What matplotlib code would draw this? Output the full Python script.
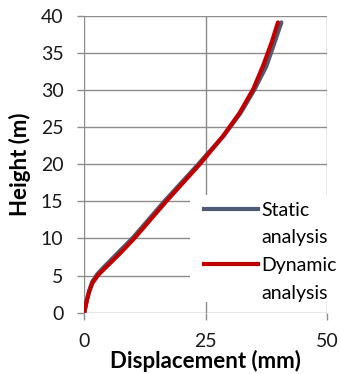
import matplotlib
matplotlib.use("Agg")
import matplotlib.pyplot as plt
from matplotlib.lines import Line2D
from matplotlib.patches import Rectangle

plt.rcParams['font.family'] = ['Lato', 'DejaVu Sans']

# displacement (mm) vs height (m)
static_disp = [0, 0.14, 0.5, 1.0, 1.6, 2.7, 4.3, 7.0, 9.9, 16.5, 23.5, 25.1, 28.7,
               32.2, 35.1, 37.5, 39.2, 40.6]
static_h = [0, 0.4, 1.6, 2.9, 4.1, 5.2, 6.3, 8.1, 10.0, 15.0, 20.0, 21.2, 23.8,
            26.9, 30.1, 33.2, 36.4, 39.1]
dynamic_disp = [0, 0.14, 0.5, 1.0, 1.7, 2.9, 4.6, 7.4, 10.3, 16.9, 23.8, 25.2, 28.6,
                32.0, 34.8, 36.8, 38.6, 39.9]
dynamic_h = [0, 0.4, 1.5, 2.8, 4.0, 5.1, 6.2, 8.0, 10.0, 15.0, 20.0, 21.1, 23.8,
             26.9, 30.1, 33.2, 36.4, 39.1]

xticks = [0, 25, 50]
yticks = [0, 5, 10, 15, 20, 25, 30, 35, 40]

fig = plt.figure(figsize=(3.41, 3.74), dpi=100)
ax = fig.add_axes([0.247, 0.164, 0.712, 0.794])

ax.plot(static_disp, static_h, color='#4F5B73', lw=3, solid_capstyle='round',
        solid_joinstyle='round', zorder=3)
ax.plot(dynamic_disp, dynamic_h, color='#C00000', lw=3, solid_capstyle='round',
        solid_joinstyle='round', zorder=4)

ax.set_xlim(0, 50)
ax.set_ylim(0, 40)
ax.set_xticks(xticks)
ax.set_yticks(yticks)
ax.grid(True, color='#8C8C8C', lw=1)
ax.set_axisbelow(True)
for s in ax.spines.values():
    s.set_visible(False)
ax.tick_params(length=5, width=1, color='#8C8C8C', labelsize=14, labelcolor='#1a1a1a')
ax.tick_params(axis='x', pad=10)
ax.tick_params(axis='y', pad=10)

ax.set_xlabel('Displacement (mm)', fontsize=16, fontweight='bold', va='center')
ax.xaxis.set_label_coords(0.5, -0.163)
ax.set_ylabel('Height (m)', fontsize=16, fontweight='bold', va='center')
ax.yaxis.set_label_coords(-0.265, 0.5)

# white legend background covering the grid
ax.add_patch(Rectangle((0.435, 0.036), 0.7, 0.36, transform=ax.transAxes,
                       facecolor='white', edgecolor='none', clip_on=False, zorder=1))

blank = Line2D([], [], color='none')
handles = [Line2D([], [], color='#4F5B73', lw=3), blank,
           Line2D([], [], color='#C00000', lw=3), blank]
labels = ['Static', 'analysis', 'Dynamic', 'analysis']
leg = ax.legend(handles, labels, loc='upper left', bbox_to_anchor=(0.494, 0.374),
                frameon=False, fontsize=14, handlelength=2.75, handletextpad=0.2,
                borderpad=0, labelspacing=0.55, borderaxespad=0)
leg.set_zorder(5)

fig.savefig('out.png', dpi=100)
